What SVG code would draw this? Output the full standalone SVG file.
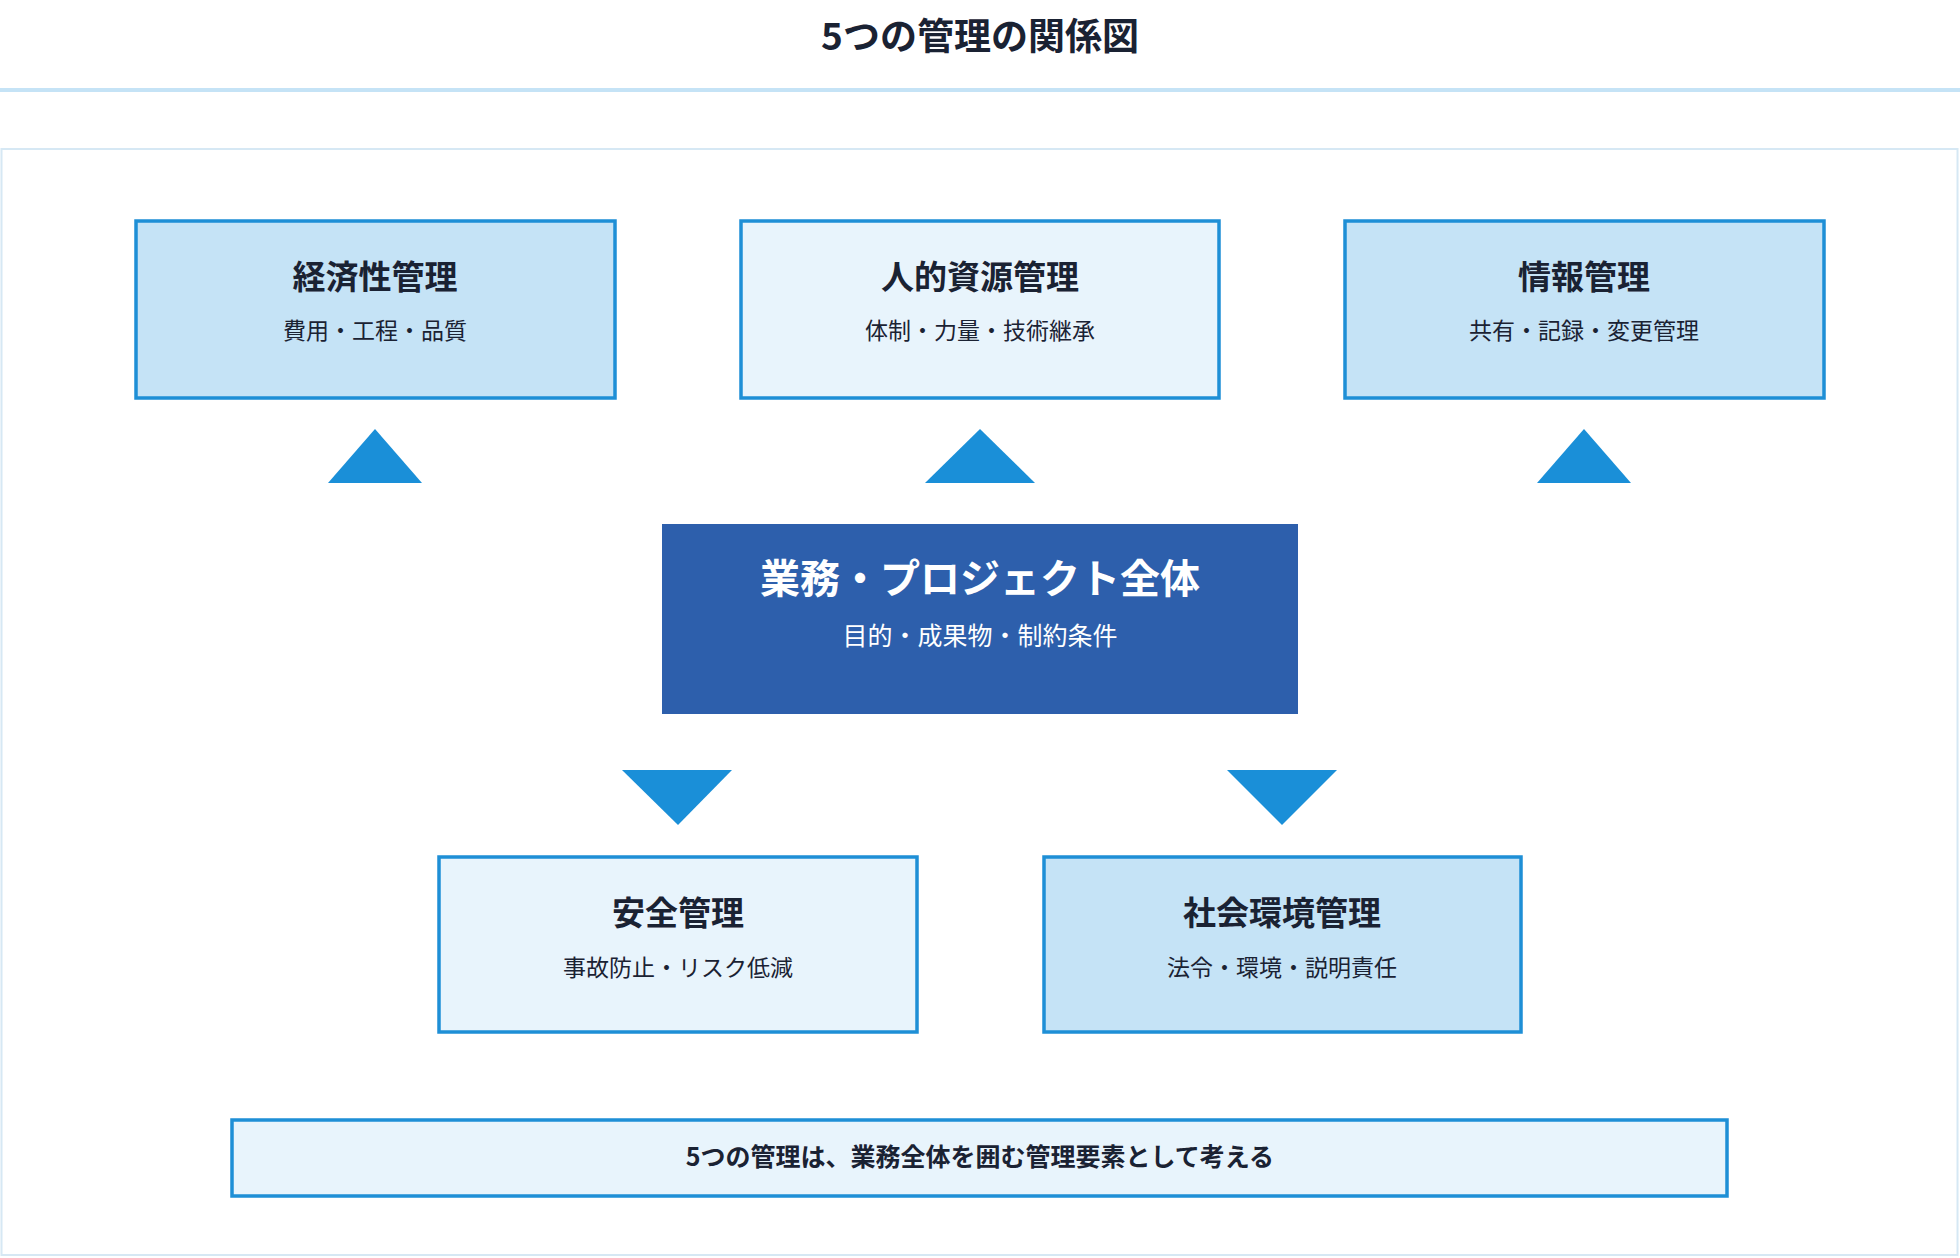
<svg xmlns="http://www.w3.org/2000/svg" width="1960" height="1258" viewBox="0 0 1960 1258">
<style>
text{font-family:"Noto Sans CJK JP","Noto Sans",sans-serif;text-anchor:middle;fill:#1a2233}
.t{font-size:33px;font-weight:bold}
.s{font-size:23px}
.a{fill:#c5e3f6;stroke:#1e8fd6;stroke-width:3.5}
.b{fill:#e8f4fc;stroke:#1e8fd6;stroke-width:3.5}
.tri{fill:#1a8fd8}
</style>
<rect width="1960" height="1258" fill="#fff"/>
<text x="980" y="50" style="font-size:37px;font-weight:bold">5つの管理の関係図</text>
<rect x="0" y="88" width="1960" height="4" fill="#c5e3f6"/>
<rect x="1.5" y="149" width="1956" height="1106" fill="#fff" stroke="#d6e8f4" stroke-width="2"/>
<g id="keizai"><rect class="a" x="136" y="221" width="479" height="177"/><text class="t" x="375" y="289">経済性管理</text><text class="s" x="375" y="339">費用・工程・品質</text></g>
<g id="jinteki"><rect class="b" x="741" y="221" width="478" height="177"/><text class="t" x="980" y="289">人的資源管理</text><text class="s" x="980" y="339">体制・力量・技術継承</text></g>
<g id="joho"><rect class="a" x="1345" y="221" width="479" height="177"/><text class="t" x="1584" y="289">情報管理</text><text class="s" x="1584" y="339">共有・記録・変更管理</text></g>
<g id="center"><rect x="662" y="524" width="636" height="190" fill="#2d5fac"/><text x="980" y="593" style="font-size:40px;font-weight:bold;fill:#fff">業務・プロジェクト全体</text><text x="980" y="645" style="font-size:25px;fill:#fff">目的・成果物・制約条件</text></g>
<g id="anzen"><rect class="b" x="439" y="857" width="478" height="175"/><text class="t" x="678" y="925">安全管理</text><text class="s" x="678" y="976">事故防止・リスク低減</text></g>
<g id="shakai"><rect class="a" x="1044" y="857" width="477" height="175"/><text class="t" x="1282" y="925">社会環境管理</text><text class="s" x="1282" y="976">法令・環境・説明責任</text></g>
<g id="note"><rect class="b" x="232" y="1120" width="1495" height="76"/><text x="980" y="1166" style="font-size:25px;font-weight:bold">5つの管理は、業務全体を囲む管理要素として考える</text></g>
<g id="connectors">
<polygon class="tri" points="328,483 422,483 375,429"/>
<polygon class="tri" points="925,483 1035,483 980,429"/>
<polygon class="tri" points="1537,483 1631,483 1584,429"/>
<polygon class="tri" points="622,770 732,770 678,825"/>
<polygon class="tri" points="1227,770 1337,770 1282,825"/>
</g>
</svg>
